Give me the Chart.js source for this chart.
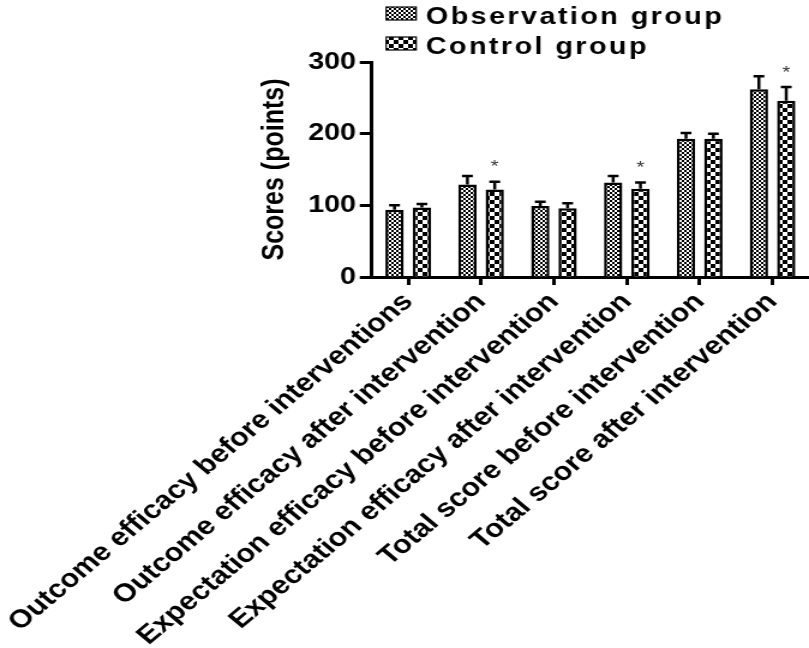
<!DOCTYPE html>
<html>
<head>
<meta charset="utf-8">
<script src="https://cdn.jsdelivr.net/npm/chart.js@4.4.1/dist/chart.umd.min.js"></script>
<style>
html, body { margin: 0; padding: 0; background: #fff; }
#wrap { width: 809px; height: 648px; overflow: hidden; }
#chart { display: block; }
</style>
</head>
<body>
<div id="wrap"><canvas id="chart" width="674" height="648" style="width:809px;height:648px;"></canvas></div>
<script>
const categories = [
    "Outcome efficacy before interventions",
    "Outcome efficacy after intervention",
    "Expectation efficacy before intervention",
    "Expectation efficacy after intervention",
    "Total score before intervention",
    "Total score after intervention"
];
const seriesNames = ["Observation group", "Control group"];
const obsValues = [94, 129, 99, 132, 193, 262];
const obsErrors = [6, 12, 6, 9, 8, 18];
const ctrlValues = [97, 122, 96, 123, 193, 246];
const ctrlErrors = [5, 11, 7, 9, 7, 19];
const ctrlMarks = ["", "*", "", "*", "", "*"];
const yTicks = [0, 100, 200, 300];

const FONT = "'Liberation Sans', Arial, sans-serif";

// checkerboard fill used for the bars and the legend boxes
function checker(size) {
    const c = document.createElement("canvas");
    c.width = size * 2;
    c.height = size * 2;
    const g = c.getContext("2d");
    g.fillStyle = "#fff";
    g.fillRect(0, 0, size * 2, size * 2);
    g.fillStyle = "#000";
    g.fillRect(0, 0, size, size);
    g.fillRect(size, size, size, size);
    return document.getElementById("chart").getContext("2d").createPattern(c, "repeat");
}
const obsFill = checker(2);
const ctrlFill = checker(4);

const errorBars = {
    id: "errorBars",
    afterDatasetsDraw(chart) {
        const ctx = chart.ctx;
        const yScale = chart.scales.y;
        const errs = [obsErrors, ctrlErrors];
        ctx.save();
        ctx.strokeStyle = "#000";
        ctx.lineWidth = 2.5;
        chart.data.datasets.forEach(function (ds, i) {
            chart.getDatasetMeta(i).data.forEach(function (bar, j) {
                const top = yScale.getPixelForValue(ds.data[j] + errs[i][j]);
                ctx.beginPath();
                ctx.moveTo(bar.x, bar.y);
                ctx.lineTo(bar.x, top);
                ctx.moveTo(bar.x - 4.5, top);
                ctx.lineTo(bar.x + 4.5, top);
                ctx.stroke();
                if (i === 1 && ctrlMarks[j]) {
                    ctx.fillStyle = "#333";
                    ctx.font = "17px " + FONT;
                    ctx.textAlign = "center";
                    ctx.textBaseline = "middle";
                    ctx.fillText(ctrlMarks[j], bar.x, top - 14);
                }
            });
        });
        ctx.restore();
    }
};

const boxLegend = {
    id: "boxLegend",
    afterDraw(chart) {
        const ctx = chart.ctx;
        const x0 = chart.chartArea.left + 12;
        const fills = [obsFill, ctrlFill];
        ctx.save();
        seriesNames.forEach(function (name, i) {
            const top = 7 + i * 30;
            ctx.fillStyle = fills[i];
            ctx.fillRect(x0, top, 25, 13);
            ctx.strokeStyle = "#000";
            ctx.lineWidth = 1.2;
            ctx.strokeRect(x0, top, 25, 13);
            ctx.fillStyle = "#000";
            ctx.font = "bold 24px " + FONT;
            ctx.letterSpacing = "2px";
            ctx.textAlign = "left";
            ctx.textBaseline = "alphabetic";
            ctx.fillText(name, x0 + 33, top + 17);
        });
        ctx.restore();
    }
};

const canvas = document.getElementById("chart");
new Chart(canvas.getContext("2d"), {
    type: "bar",
    data: {
        labels: categories,
        datasets: [
            {
                label: seriesNames[0],
                data: obsValues,
                backgroundColor: obsFill,
                borderColor: "#000",
                borderWidth: 2.5,
                categoryPercentage: 0.75,
                barPercentage: 0.67
            },
            {
                label: seriesNames[1],
                data: ctrlValues,
                backgroundColor: ctrlFill,
                borderColor: "#000",
                borderWidth: 2.5,
                categoryPercentage: 0.75,
                barPercentage: 0.67
            }
        ]
    },
    options: {
        responsive: false,
        animation: false,
        devicePixelRatio: 1,
        layout: { padding: { top: 62, left: 17, right: 0, bottom: 0 } },
        plugins: {
            legend: { display: false },
            tooltip: { enabled: false }
        },
        scales: {
            x: {
                afterFit(scale) {
                    scale.height = 371; // room for the long slanted labels
                },
                grid: { offset: false, drawOnChartArea: false, tickLength: 8, tickWidth: 3, color: "#000" },
                border: { color: "#000", width: 3 },
                ticks: {
                    autoSkip: false,
                    maxRotation: 45,
                    minRotation: 45,
                    color: "#000",
                    padding: 2,
                    font: { family: FONT, size: 25.5, weight: "bold" }
                }
            },
            y: {
                min: 0,
                max: 300,
                afterBuildTicks(scale) {
                    scale.ticks = yTicks.map(v => ({ value: v }));
                },
                grid: { drawOnChartArea: false, tickLength: 10, tickWidth: 3, color: "#000" },
                border: { color: "#000", width: 3 },
                ticks: {
                    color: "#000",
                    padding: 3,
                    font: { family: FONT, size: 24, weight: "bold" }
                },
                title: {
                    display: true,
                    text: "Scores (points)",
                    color: "#000",
                    padding: { top: 0, bottom: 10 },
                    font: { family: FONT, size: 25, weight: "bold" }
                }
            }
        }
    },
    plugins: [errorBars, boxLegend]
});
</script>
</body>
</html>
